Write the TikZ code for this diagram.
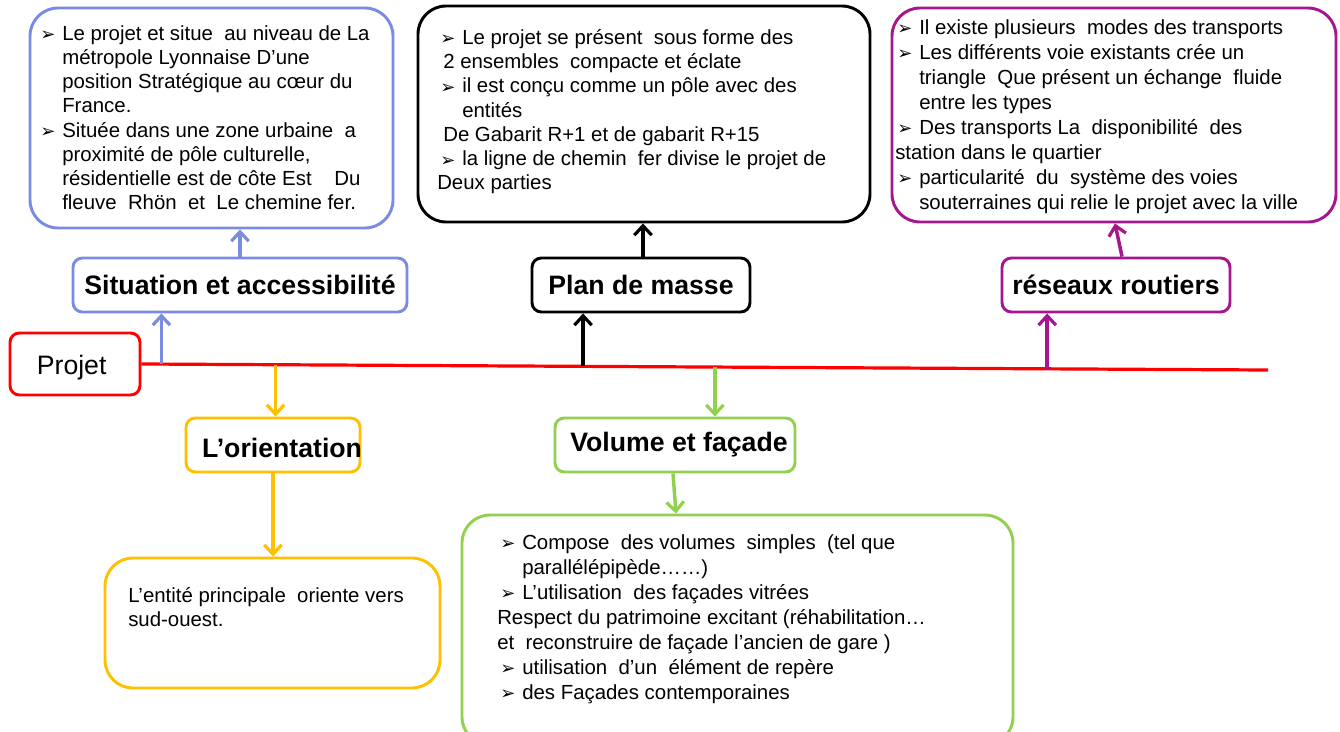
\documentclass[tikz,border=0pt]{standalone}
\usepackage{fontspec}
\setmainfont{Liberation Sans}
\newfontfamily\dv{DejaVu Sans}
\usetikzlibrary{arrows.meta,calc}
\definecolor{cblue}{RGB}{122,140,226}
\definecolor{cpurple}{RGB}{165,22,143}
\definecolor{cyellow}{RGB}{255,192,0}
\definecolor{cgreen}{RGB}{146,208,80}
\definecolor{cred}{RGB}{255,0,0}
\newcommand\blt{\makebox[16.5pt][l]{\raisebox{-0.3pt}{\dv\fontsize{13.5}{13.5}\selectfont ➢}}}
\newcommand\myind{\hspace*{16.5pt}}
\tikzset{
  sz/.style 2 args={minimum width=#1*0.75pt, minimum height=#2*0.75pt},
  bigbox/.style={draw, line width=2.2pt, rounded corners=21pt, inner sep=0pt},
  titlebox/.style={draw, line width=2.2pt, rounded corners=7pt, inner sep=0pt,
    font=\fontsize{20}{24}\selectfont\bfseries},
  bodytext/.style={anchor=north west, inner sep=0pt, align=left,
    font=\fontsize{15.3}{18.2}\selectfont},
  arr/.style={line width=2.6pt, -{Straight Barb[length=7pt,width=13pt,line width=2.4pt]}},
}
\begin{document}
\begin{tikzpicture}[x=0.75pt,y=-0.75pt]
\useasboundingbox[fill=white] (0,0) rectangle (1340,732);

% top text boxes
\node (b1) [bigbox, draw=cblue, sz={363}{220}] at (211.5,118) {};
\node (b2) [bigbox, draw=black, sz={452}{216}] at (644,114) {};
\node (b3) [bigbox, draw=cpurple, sz={444}{214}] at (1114,115) {};

\node (t1) [bodytext] at (40,25) {%
\blt Le projet et situe\ \ au niveau de La\\
\myind métropole Lyonnaise D’une\\
\myind position Stratégique au cœur du\\
\myind France.\\
\blt Située dans une zone urbaine\ \ a\\
\myind proximité de pôle culturelle,\\
\myind résidentielle est de côte Est\ \ \ \ Du\\
\myind fleuve\ \ Rhön\ \ et\ \ Le chemine fer.};

\node (t2) [bodytext] at (440,29) {%
\blt Le projet se présent\ \ sous forme des\\
\hspace*{2.25pt}2 ensembles\ \ compacte et éclate\\
\blt il est conçu comme un pôle avec des\\
\myind entités\\
\hspace*{2.25pt}De Gabarit R+1 et de gabarit R+15\\
\blt la ligne de chemin\ \ fer divise le projet de\\
\hspace*{-2.25pt}Deux parties};

\node (t3) [bodytext, font=\fontsize{15.3}{18.8}\selectfont] at (897,19) {%
\blt Il existe plusieurs\ \ modes des transports\\
\blt Les différents voie existants crée un\\
\myind triangle\ \ Que présent un échange\ \ fluide\\
\myind entre les types\\
\blt Des transports La\ \ disponibilité\ \ des\\
\hspace*{-1.5pt}station dans le quartier\\
\blt particularité\ \ du\ \ système des voies\\
\myind souterraines qui relie le projet avec la ville};

% title boxes
\node (sit) [titlebox, draw=cblue, sz={334}{54}] at (240,285) {Situation et accessibilité};
\node (plan) [titlebox, draw=black, sz={218}{54}] at (641,285) {Plan de masse};
\node (res) [titlebox, draw=cpurple, sz={228}{54}] at (1116,285) {réseaux routiers};

% projet and line
\node (proj) [draw=cred, line width=2.2pt, rounded corners=7pt, sz={130}{62},
  label={[xshift=-2.5pt, yshift=-2.5pt, font=\fontsize{20}{24}\selectfont]center:Projet}] at (75,364) {};
\coordinate (lineend) at (1268,370);
\draw[cred, line width=2.4pt] (proj.east) -- (lineend);

\coordinate (p1) at ($(proj.east)!0.0177!(lineend)$);
\coordinate (p2) at ($(proj.east)!0.392!(lineend)$);
\coordinate (p3) at ($(proj.east)!0.804!(lineend)$);
\coordinate (p4) at ($(proj.east)!0.119!(lineend)$);
\coordinate (p5) at ($(proj.east)!0.509!(lineend)$);

% lower boxes
\node (ori) [titlebox, draw=cyellow, sz={174}{54},
  label={[xshift=6.75pt, yshift=-2.5pt, font=\fontsize{20}{24}\selectfont\bfseries]center:L’orientation}] at (273,445) {};
\node (vol) [titlebox, draw=cgreen, sz={240}{54}] at (675,445) {\hspace*{6pt}Volume et façade};
\node (ob) [bigbox, draw=cyellow, sz={335}{130}] at (272.5,623) {};
\node (vb) [bigbox, draw=cgreen, sz={551}{230}] at (737.5,630) {};

\node (t4) [bodytext] at (128,587) {%
L’entité principale\ \ oriente vers\\
sud-ouest.};

\node (t5) [bodytext, font=\fontsize{15.3}{18.8}\selectfont] at (500,534) {%
\blt Compose\ \ des volumes\ \ simples\ \ (tel que\\
\myind parallélépipède……)\\
\blt L’utilisation\ \ des façades vitrées\\
\hspace*{-2.25pt}Respect du patrimoine excitant (réhabilitation…\\
\hspace*{-2.25pt}et\ \ reconstruire de façade l’ancien de gare )\\
\blt utilisation\ \ d’un\ \ élément de repère\\
\blt des Façades contemporaines};

% arrows
\draw[arr, cblue] (sit.north) -- (sit.north |- b1.south);
\draw[arr, black] ($(plan.north)+(2,0)$) -- ($(plan.north |- b2.south)+(2,0)$);
\draw[arr, cpurple] ($(res.north)+(6,0)$) -- ($(b3.south)+(1,0)$);
\draw[arr, cblue] (p1) -- (p1 |- sit.south);
\draw[arr, black] (p2) -- (p2 |- plan.south);
\draw[arr, cpurple] (p3) -- (p3 |- res.south);
\draw[arr, cyellow] (p4) -- (p4 |- ori.north);
\draw[arr, cgreen] (p5) -- (p5 |- vol.north);
\draw[arr, cyellow] (ori.south) -- (ori.south |- ob.north);
\draw[arr, cgreen] ($(vol.south)+(-2,0)$) -- ($(vol.south |- vb.north)+(1,0)$);
\end{tikzpicture}
\end{document}
